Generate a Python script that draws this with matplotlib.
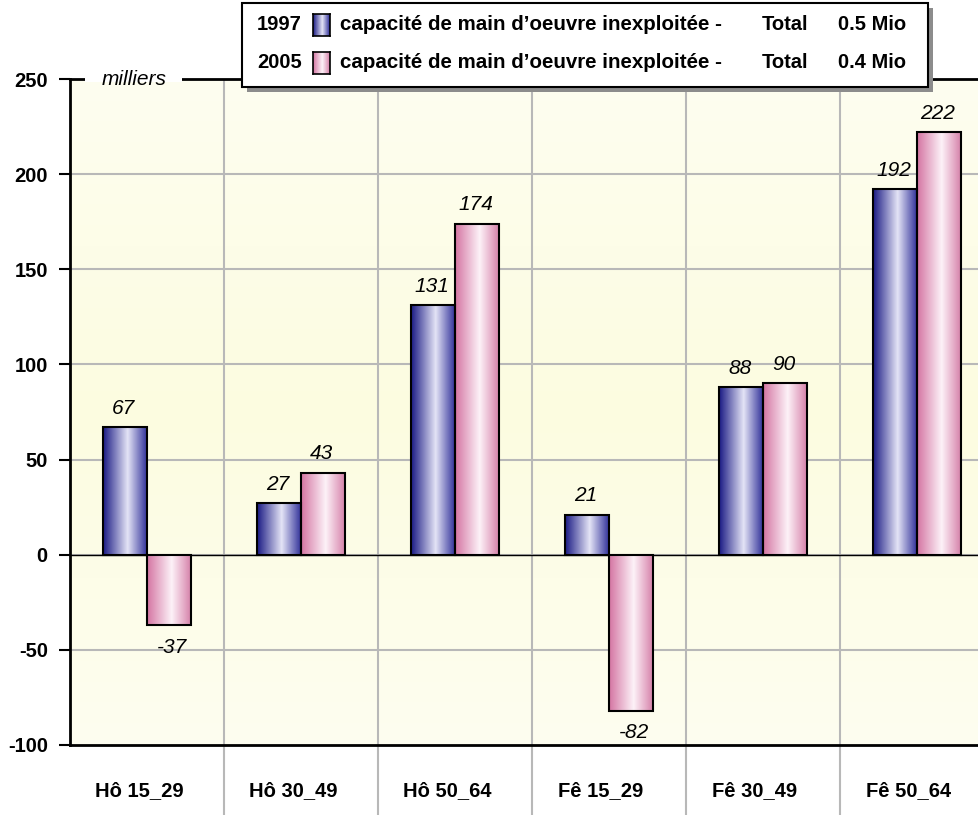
import numpy as np
import matplotlib
matplotlib.use("Agg")
import matplotlib.pyplot as plt
import matplotlib.patches as mpatches
from matplotlib.colors import LinearSegmentedColormap
from matplotlib.transforms import ScaledTranslation

categories = ["Hô 15_29", "Hô 30_49", "Hô 50_64", "Fê 15_29", "Fê 30_49", "Fê 50_64"]
values_1997 = [67, 27, 131, 21, 88, 192]
values_2005 = [-37, 43, 174, -82, 90, 222]
series_years = ["1997", "2005"]
series_totals = ["0.5 Mio", "0.4 Mio"]
yticks = [-100, -50, 0, 50, 100, 150, 200, 250]

W, H = 979, 815
plt.rcParams["font.family"] = ["Liberation Sans", "DejaVu Sans"]

blue_cmap = LinearSegmentedColormap.from_list(
    "bl", [(0, "#1a1a84"), (0.55, "#e4e4f6"), (1, "#2a2a96")])
pink_cmap = LinearSegmentedColormap.from_list(
    "pk", [(0, "#d474a2"), (0.55, "#fdf2f8"), (1, "#d47ca6")])
bg_cmap = LinearSegmentedColormap.from_list(
    "bg", [(0, "#fefef0"), (0.5, "#fcfce0"), (1, "#fefef0")])
grad = np.linspace(0, 1, 256).reshape(1, -1)


def px(x, y):
    return x / W, 1 - y / H


fig = plt.figure(figsize=(W / 100, H / 100), dpi=100)
ax = fig.add_axes([70 / W, 70 / H, 924 / W, 666 / H])

x = np.arange(len(categories))
ax.set_xlim(-0.5, len(categories) - 0.5)
ax.set_ylim(-100, 250)
ax.imshow(grad.T, cmap=bg_cmap, aspect="auto", zorder=0,
          extent=(-0.5, len(categories) - 0.5, -100, 250))

bw = 0.286
bars1 = ax.bar(x - bw / 2, values_1997, bw, facecolor="none", edgecolor="black",
               linewidth=1.5, zorder=4)
bars2 = ax.bar(x + bw / 2, values_2005, bw, facecolor="none", edgecolor="black",
               linewidth=1.5, zorder=4)

for bars, cmap in ((bars1, blue_cmap), (bars2, pink_cmap)):
    for b in bars:
        x0, y0 = b.get_x(), b.get_y()
        ax.imshow(grad, cmap=cmap, aspect="auto", zorder=3,
                  extent=(x0, x0 + b.get_width(), y0, y0 + b.get_height()))
    for b in bars:
        v = b.get_height()
        cx = b.get_x() + b.get_width() / 2
        if v >= 0:
            ax.annotate(f"{v:g}", (cx, v), xytext=(-1, 7), textcoords="offset points",
                        ha="center", va="bottom", fontsize=15, style="italic", zorder=5)
        else:
            ax.annotate(f"{v:g}", (cx, v), xytext=(2, -9), textcoords="offset points",
                        ha="center", va="top", fontsize=15, style="italic", zorder=5)

ax.set_xlim(-0.5, len(categories) - 0.5)
ax.set_ylim(-100, 250)
ax.set_yticks(yticks)
ax.set_yticklabels([str(t) for t in yticks], fontsize=14.5, fontweight="bold")
ax.tick_params(axis="y", direction="out", length=8, width=1.5, pad=8)
ax.set_xticks(x)
ax.set_xticklabels(categories, fontsize=14.5, fontweight="bold")
ax.tick_params(axis="x", length=0, pad=26)
shift = ScaledTranslation(-8 / 100, 0, fig.dpi_scale_trans)
for lbl in ax.get_xticklabels():
    lbl.set_transform(lbl.get_transform() + shift)

for yv in yticks[1:-1]:
    ax.axhline(yv, color="#b8b8b8", linewidth=1.5, zorder=1)
ax.axhline(0, color="black", linewidth=1, zorder=2)
ax.vlines(x[:-1] + 0.5, -0.12, 1, transform=ax.get_xaxis_transform(),
          color="#b8b8b8", linewidth=1.5, zorder=1, clip_on=False)

for s in ("left", "bottom", "top"):
    ax.spines[s].set_linewidth(2)
ax.spines["right"].set_visible(False)

# gap in the top line for the unit label
ax.add_patch(mpatches.Rectangle(((85 - 70) / 924, 1 - 3 / 666), 97 / 924, 6 / 666,
                                transform=ax.transAxes, facecolor="white", edgecolor="none",
                                clip_on=False, zorder=6))
ax.text((134 - 70) / 924, 1.0, "milliers", transform=ax.transAxes, ha="center",
        va="center", fontsize=15, style="italic", zorder=7)

# legend box with shadow
lx0, ly0, lx1, ly1 = 242, 3, 928, 87
fig.patches.append(mpatches.Rectangle(px(lx0 + 5, ly1 + 5), (lx1 - lx0) / W, (ly1 - ly0) / H,
                                      transform=fig.transFigure, facecolor="#8c8c8c",
                                      edgecolor="none", zorder=8))
fig.patches.append(mpatches.Rectangle(px(lx0, ly1), (lx1 - lx0) / W, (ly1 - ly0) / H,
                                      transform=fig.transFigure, facecolor="white",
                                      edgecolor="black", linewidth=1.5, zorder=9))
for i, (yr, tot, cmap) in enumerate(zip(series_years, series_totals, (blue_cmap, pink_cmap))):
    yc = 25 + i * 38
    fig.text(*px(257, yc), yr, ha="left", va="center", fontsize=14.5, fontweight="bold", zorder=10)
    sw = fig.add_axes([313 / W, 1 - (yc + 11) / H, 17 / W, 22 / H], zorder=10)
    sw.imshow(grad, cmap=cmap, aspect="auto")
    sw.set_xticks([])
    sw.set_yticks([])
    for s in sw.spines.values():
        s.set_linewidth(1.2)
    fig.text(*px(340, yc), "capacité de main d\u2019oeuvre inexploitée -", ha="left", va="center",
             fontsize=14.8, fontweight="bold", zorder=10)
    fig.text(*px(762, yc), "Total", ha="left", va="center", fontsize=14.5, fontweight="bold", zorder=10)
    fig.text(*px(838, yc), tot, ha="left", va="center", fontsize=14.5, fontweight="bold", zorder=10)

fig.savefig("out.png", dpi=100)
